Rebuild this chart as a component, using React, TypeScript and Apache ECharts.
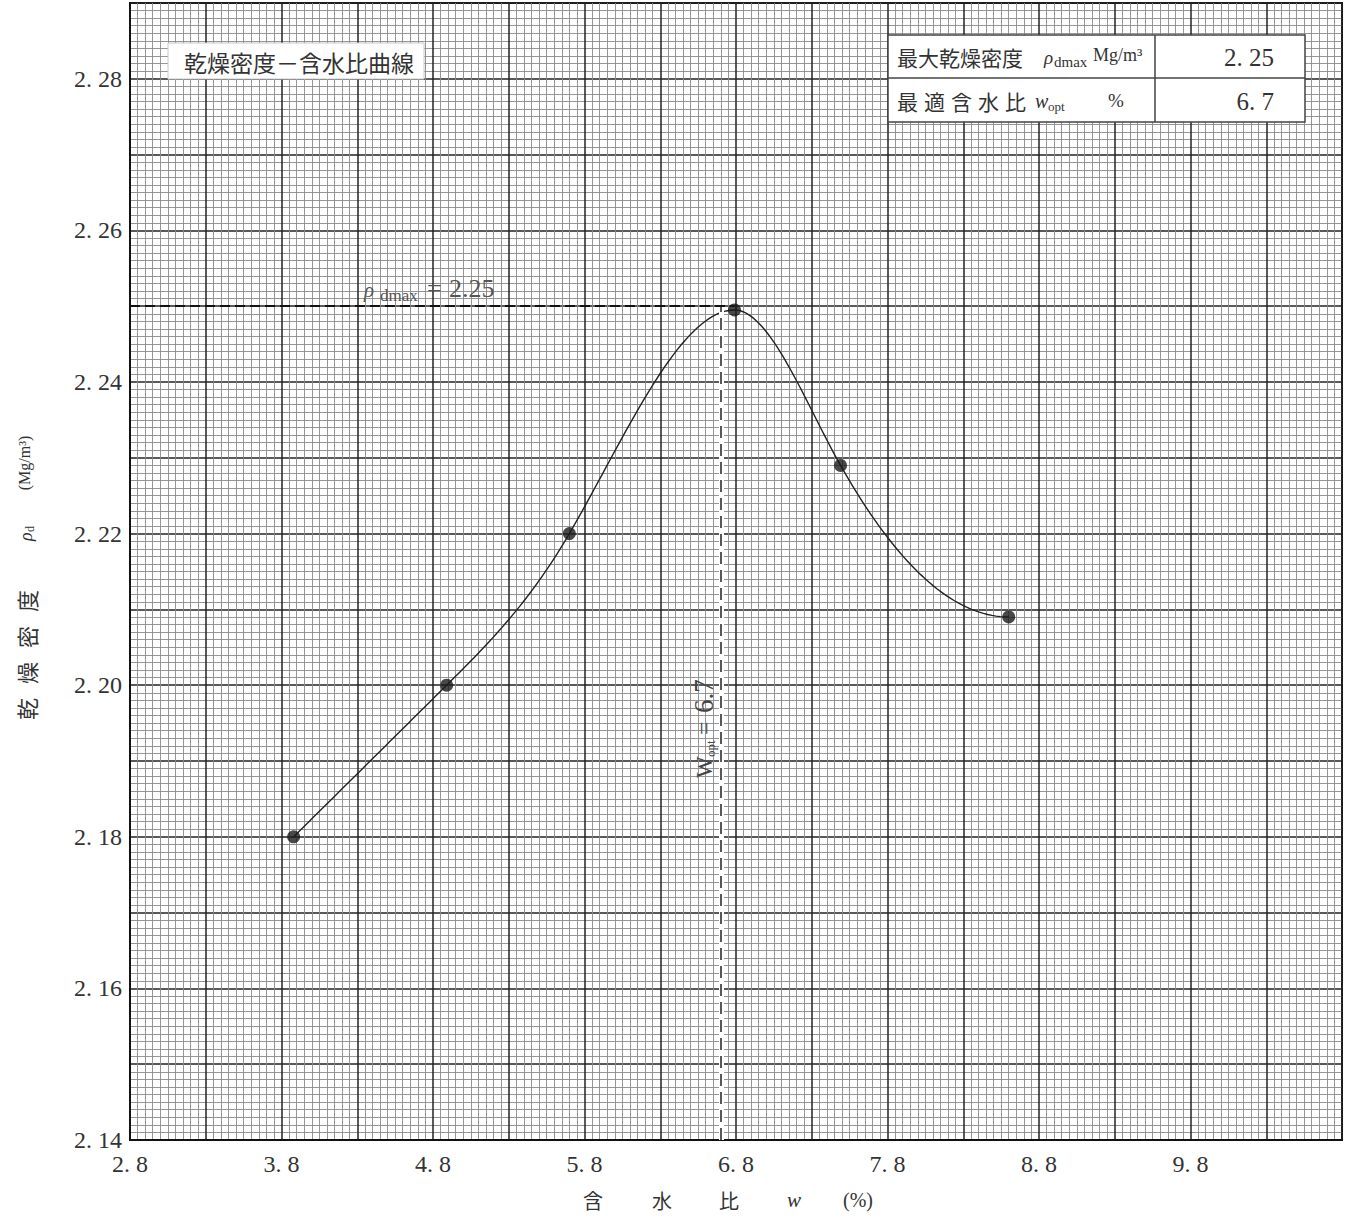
import React, { useEffect, useRef } from "react";
import * as echarts from "echarts";

// ---- data ----
const moisture = [3.88, 4.89, 5.7, 6.79, 7.49, 8.6];
const dryDensity = [2.18, 2.2, 2.22, 2.2495, 2.229, 2.209];
const xLabelValues = [2.8, 3.8, 4.8, 5.8, 6.8, 7.8, 8.8, 9.8];
const yLabelValues = [2.14, 2.16, 2.18, 2.2, 2.22, 2.24, 2.26, 2.28];
const rhoDmax = 2.25;
const wOpt = 6.7;
const peakMoisture = 6.79;
const tableRows = [
  { label: "最大乾燥密度", value: "2. 25" },
  { label: "最適含水比", value: "6. 7" },
];

const SERIF = '"Liberation Serif", "DejaVu Serif", serif';
const CJK = '"Noto Sans CJK JP", "Noto Sans CJK SC", sans-serif';

const has = (arr: number[], v: number) => arr.some((t) => Math.abs(t - v) < 1e-6);

function txt(x: number, y: number, text: string, o: any = {}) {
  return {
    type: "text",
    x,
    y,
    z: 20,
    style: {
      text,
      fontSize: o.size ?? 20,
      fontFamily: o.font ?? SERIF,
      fontStyle: o.italic ? "italic" : "normal",
      fill: o.color ?? "#222",
      align: o.align ?? "left",
      verticalAlign: "middle",
    },
  };
}

// cubic spline (natural start, flat end) through projected points, flat at local extrema
function curvePoints(p: number[][]) {
  const n = p.length;
  const h: number[] = [];
  const d: number[] = [];
  for (let i = 0; i < n - 1; i++) {
    h.push(p[i + 1][0] - p[i][0]);
    d.push((p[i + 1][1] - p[i][1]) / h[i]);
  }
  const a = new Array(n).fill(0);
  const b = new Array(n).fill(0);
  const c = new Array(n).fill(0);
  const r = new Array(n).fill(0);
  b[0] = 2;
  c[0] = 1;
  r[0] = 3 * d[0];
  for (let i = 1; i < n - 1; i++) {
    a[i] = h[i];
    b[i] = 2 * (h[i - 1] + h[i]);
    c[i] = h[i - 1];
    r[i] = 3 * (h[i] * d[i - 1] + h[i - 1] * d[i]);
  }
  b[n - 1] = 1;
  r[n - 1] = 0;
  const cp = new Array(n).fill(0);
  const rp = new Array(n).fill(0);
  cp[0] = c[0] / b[0];
  rp[0] = r[0] / b[0];
  for (let i = 1; i < n; i++) {
    const den = b[i] - a[i] * cp[i - 1];
    cp[i] = c[i] / den;
    rp[i] = (r[i] - a[i] * rp[i - 1]) / den;
  }
  const m = new Array(n).fill(0);
  m[n - 1] = rp[n - 1];
  for (let i = n - 2; i >= 0; i--) m[i] = rp[i] - cp[i] * m[i + 1];
  for (let i = 1; i < n - 1; i++) if (d[i - 1] * d[i] <= 0) m[i] = 0;

  const out: number[][] = [];
  for (let i = 0; i < n - 1; i++) {
    const [x0, y0] = p[i];
    const [, y1] = p[i + 1];
    const steps = 40;
    for (let s = 0; s <= steps; s++) {
      if (i > 0 && s === 0) continue;
      const t = s / steps;
      const t2 = t * t;
      const t3 = t2 * t;
      const h00 = 2 * t3 - 3 * t2 + 1;
      const h10 = t3 - 2 * t2 + t;
      const h01 = -2 * t3 + 3 * t2;
      const h11 = t3 - t2;
      out.push([x0 + h[i] * t, h00 * y0 + h10 * h[i] * m[i] + h01 * y1 + h11 * h[i] * m[i + 1]]);
    }
  }
  return out;
}

export default function App() {
  const ref = useRef<HTMLDivElement>(null);
  useEffect(() => {
    const chart = echarts.init(ref.current!, null, { renderer: "svg" });

    const rowChars = tableRows[1].label.split("");
    const yNameChars = "乾燥密度".split("");
    const points = moisture.map((x, i) => [x, dryDensity[i]]);

    const graphic: any[] = [
      // title box
      {
        type: "rect",
        z: 15,
        shape: { x: 168, y: 43, width: 256, height: 36 },
        style: { fill: "#fff", stroke: "#c8c8c8", lineWidth: 1 },
      },
      txt(299, 62, "乾燥密度－含水比曲線", { font: CJK, size: 23, align: "center", color: "#333" }),
      // table
      {
        type: "rect",
        z: 15,
        shape: { x: 888, y: 35, width: 417, height: 87 },
        style: { fill: "#fff", stroke: "#444", lineWidth: 1.5 },
      },
      { type: "line", z: 16, shape: { x1: 888, y1: 78, x2: 1305, y2: 78 }, style: { stroke: "#444", lineWidth: 1.5 } },
      { type: "line", z: 16, shape: { x1: 1155, y1: 35, x2: 1155, y2: 122 }, style: { stroke: "#444", lineWidth: 1.5 } },
      txt(897, 57, tableRows[0].label, { font: CJK, size: 21, color: "#333" }),
      txt(1044, 57, "ρ", { italic: true, size: 19, color: "#333" }),
      txt(1054, 62, "dmax", { size: 15, color: "#333" }),
      txt(1093, 55, "Mg/m³", { size: 18, color: "#333" }),
      txt(1274, 57, tableRows[0].value, { size: 25, align: "right", color: "#333" }),
      ...rowChars.map((c, i) => txt(897 + i * 27, 101, c, { font: CJK, size: 21, color: "#333" })),
      txt(1035, 101, "w", { italic: true, size: 20, color: "#333" }),
      txt(1048, 106, "opt", { size: 13, color: "#333" }),
      txt(1108, 100, "%", { size: 19, color: "#333" }),
      txt(1274, 101, tableRows[1].value, { size: 25, align: "right", color: "#333" }),
      // rho_dmax annotation
      txt(364, 290, "ρ", { italic: true, size: 21, color: "#555" }),
      txt(380, 295, "dmax", { size: 17, color: "#555" }),
      txt(427, 288, "=", { size: 26, color: "#555" }),
      txt(449, 288, "2.25", { size: 26, color: "#555" }),
      // W_opt annotation (rotated)
      {
        type: "group",
        x: 704,
        y: 725,
        rotation: Math.PI / 2,
        z: 20,
        children: [
          txt(-53, 0, "W", { size: 23, color: "#444" }),
          txt(-32, 6, "opt", { size: 13, color: "#444" }),
          txt(-10, 0, "=", { size: 24, color: "#444" }),
          txt(12, 0, "6.7", { size: 27, color: "#444" }),
        ],
      },
      // y axis name (rotated)
      {
        type: "group",
        x: 26,
        y: 575,
        rotation: Math.PI / 2,
        z: 20,
        children: [
          ...yNameChars.map((c, i) => txt(-134 + i * 36, 0, c, { font: CJK, size: 22, align: "center", color: "#333" })),
          txt(34, 0, "ρ", { italic: true, size: 18, color: "#333" }),
          txt(43, 4, "d", { size: 12, color: "#333" }),
          txt(112, -2, "(Mg/m³)", { size: 16, align: "center", color: "#333" }),
        ],
      },
      // x axis name
      txt(593, 1200, "含", { font: CJK, size: 20, align: "center", color: "#333" }),
      txt(662, 1200, "水", { font: CJK, size: 20, align: "center", color: "#333" }),
      txt(729, 1200, "比", { font: CJK, size: 20, align: "center", color: "#333" }),
      txt(794, 1200, "w", { italic: true, size: 21, align: "center", color: "#333" }),
      txt(858, 1200, "(%)", { size: 20, align: "center", color: "#333" }),
    ];

    const axisCommon = {
      type: "value",
      axisLine: { show: true, lineStyle: { color: "#111", width: 2 } },
      axisTick: { show: false },
      splitLine: { show: true, lineStyle: { color: "#222", width: 1.5 } },
      minorTick: { show: false, splitNumber: 10 },
      minorSplitLine: { show: true, lineStyle: { color: "#8a8a8a", width: 0.9 } },
    };

    chart.setOption({
      animation: false,
      backgroundColor: "#fff",
      grid: {
        left: 130,
        right: 12,
        top: 3,
        bottom: 80,
        show: true,
        backgroundColor: "#fff",
        borderColor: "#111",
        borderWidth: 2,
      },
      xAxis: {
        ...axisCommon,
        min: 2.8,
        max: 10.8,
        interval: 0.5,
        axisLabel: {
          margin: 12,
          fontFamily: SERIF,
          fontSize: 24,
          color: "#333",
          formatter: (v: number) => (has(xLabelValues, v) ? v.toFixed(1).replace(".", ". ") : ""),
        },
      },
      yAxis: {
        ...axisCommon,
        min: 2.14,
        max: 2.29,
        interval: 0.01,
        axisLabel: {
          margin: 8,
          fontFamily: SERIF,
          fontSize: 24,
          color: "#333",
          formatter: (v: number) => (has(yLabelValues, v) ? v.toFixed(2).replace(".", ". ") : ""),
        },
      },
      graphic,
      series: [
        {
          type: "custom",
          coordinateSystem: "cartesian2d",
          data: points,
          z: 4,
          silent: true,
          renderItem: (params: any, api: any) => {
            if (params.dataIndex !== 0) return { type: "group", children: [] };
            const px = points.map((pt) => api.coord(pt));
            return {
              type: "polyline",
              shape: { points: curvePoints(px) },
              style: { stroke: "#222", lineWidth: 1.4, fill: null },
            };
          },
          markLine: {
            silent: true,
            symbol: "none",
            label: { show: false },
            data: [
              [
                { coord: [wOpt, 2.14], lineStyle: { color: "#fff", width: 5, type: "solid" } },
                { coord: [wOpt, rhoDmax] },
              ],
              [
                { coord: [wOpt, 2.14], lineStyle: { color: "#222", width: 1.5, type: [12, 6] } },
                { coord: [wOpt, rhoDmax] },
              ],
              [
                { coord: [2.8, rhoDmax], lineStyle: { color: "#111", width: 2, type: [10, 5] } },
                { coord: [peakMoisture, rhoDmax] },
              ],
            ],
          },
        },
        {
          type: "scatter",
          data: points,
          symbol: "circle",
          symbolSize: 13,
          itemStyle: { color: "#1a1a1a" },
          z: 6,
        },
      ],
    });
    return () => chart.dispose();
  }, []);
  return (
    <div
      ref={ref}
      style={{ position: "absolute", left: 0, top: 0, width: 1354, height: 1220, background: "#fff" }}
    />
  );
}
